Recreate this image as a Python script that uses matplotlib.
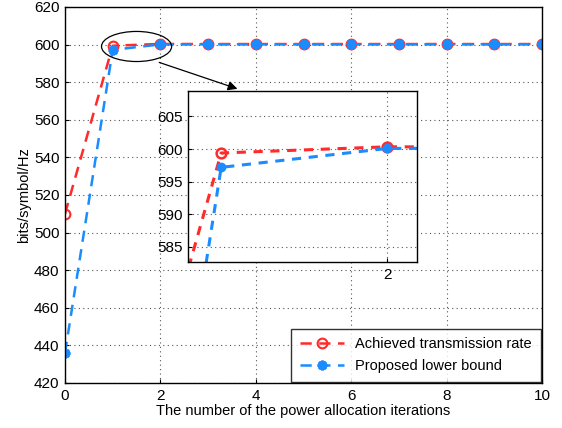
import matplotlib
matplotlib.use("Agg")
import matplotlib.pyplot as plt
from matplotlib.patches import Ellipse

plt.rcParams['font.family'] = ['Liberation Sans', 'DejaVu Sans']

# data
iters = [0, 1, 2, 3, 4, 5, 6, 7, 8, 9, 10]
achieved = [510, 599.4, 600.35, 600.3, 600.3, 600.3, 600.3, 600.3, 600.3, 600.3, 600.3]
lower_bound = [436, 597.2, 600.1, 600.15, 600.15, 600.15, 600.15, 600.15, 600.15, 600.15, 600.15]

red = '#ff2a2a'
blue = '#1a8cff'
star = (8, 2, 0)

fig = plt.figure(figsize=(5.62, 4.28), dpi=100)
ax = fig.add_axes([65 / 562, 1 - 383 / 428, 477 / 562, 376 / 428])

ax.plot(iters, achieved, '--', color=red, lw=1.8, dashes=(4.5, 3),
        marker='o', mfc='none', mec=red, ms=7, mew=1.5, label='Achieved transmission rate')
ax.plot(iters, lower_bound, '--', color=blue, lw=1.8, dashes=(4.5, 3),
        marker=star, mfc=blue, mec=blue, ms=7, mew=2, label='Proposed lower bound')

ax.set_xlim(0, 10)
ax.set_ylim(420, 620)
ax.set_xticks(range(0, 11, 2))
ax.set_yticks(range(420, 621, 20))
ax.grid(True, linestyle=(0, (1, 3)), color='#555555', lw=0.8)
ax.tick_params(labelsize=11, direction='in', length=3, pad=4)
ax.set_xlabel('The number of the power allocation iterations', fontsize=10.5, labelpad=1)
ax.set_ylabel('bits/symbol/Hz', fontsize=10.5, labelpad=2)
for s in ax.spines.values():
    s.set_linewidth(1.0)

leg = ax.legend(loc='lower right', fontsize=10.5, frameon=True, fancybox=False,
                edgecolor='black', handlelength=3, borderpad=0.6, labelspacing=0.5,
                bbox_to_anchor=(1.0, 0.0), borderaxespad=0.1)
leg.get_frame().set_linewidth(1.0)

# ellipse and arrow pointing to the zoomed view
ax.add_patch(Ellipse((1.5, 599), 1.47, 16, fill=False, ec='black', lw=0.9, zorder=5))
ax.annotate('', xy=(3.67, 576), xytext=(1.92, 591),
            arrowprops=dict(arrowstyle='-|>', color='black', lw=0.9, mutation_scale=14))

# inset
ins = fig.add_axes([188 / 562, 1 - 262 / 428, 229 / 562, 171 / 428])
ins.plot(iters, achieved, '--', color=red, lw=2.2, dashes=(3, 2.5),
         marker='o', mfc='none', mec=red, ms=7, mew=1.8)
ins.plot(iters, lower_bound, '--', color=blue, lw=2.2, dashes=(3, 2.5),
         marker='o', mfc=blue, mec=blue, ms=6)
ins.set_xlim(0.8, 2.18)
ins.set_ylim(582.7, 608.9)
ins.set_xticks([2])
ins.set_yticks([585, 590, 595, 600, 605])
ins.grid(True, linestyle=(0, (1, 3)), color='#555555', lw=0.8)
ins.tick_params(labelsize=11, direction='in', length=3, pad=4)
for s in ins.spines.values():
    s.set_linewidth(1.0)

fig.savefig('out.png', dpi=100)
